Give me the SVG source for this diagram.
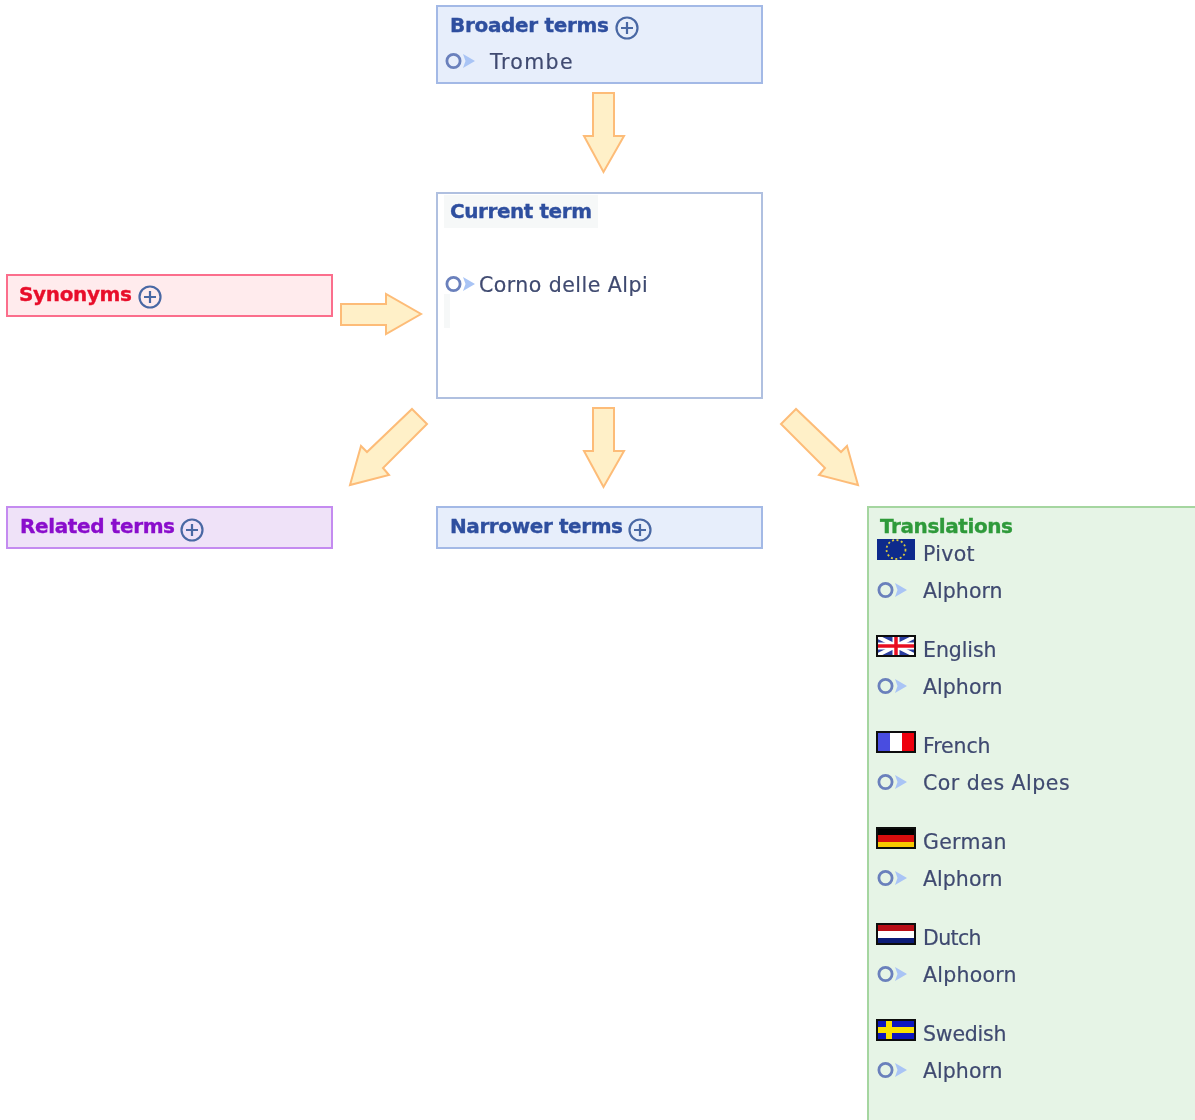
<svg xmlns="http://www.w3.org/2000/svg" width="1195" height="1120" viewBox="0 0 1195 1120">
<style>
text{font-family:"DejaVu Sans",Verdana,sans-serif}
.h{font-size:20px;font-weight:700;stroke-width:.35px}
.t{font-size:20.5px;fill:#3f4a70;letter-spacing:.4px;stroke:#3f4a70;stroke-width:.2px}
.box{stroke-width:2}
.ar{fill:#fff0c8;stroke:#fdbc78;stroke-width:2;stroke-linejoin:miter}
.pc{fill:none;stroke:#4a68a4;stroke-width:2.2}
.bc{fill:none;stroke:#6a80bc;stroke-width:2.8}
.bt{fill:#a9c4f5}
.fb{stroke:#111;stroke-width:2}
</style>
<defs>
<filter id="soft" x="-2%" y="-2%" width="104%" height="104%"><feGaussianBlur stdDeviation="0.45"/></filter>
<g id="plus"><circle r="10.5" class="pc"/><path d="M-6 0H6M0-6V6" class="pc"/></g>
<g id="bullet"><circle cx="7.5" cy="0" r="6.6" class="bc"/><path d="M17 -7L29 0L17 7L19.5 0Z" class="bt"/></g>
</defs>
<rect width="1195" height="1120" fill="#fff"/>
<g id="diagram" filter="url(#soft)">
<g id="connectors">
<path class="ar" d="M593 93H614V136H624L603.500 172L584 136H593Z"/>
<path class="ar" d="M341 304H386V294L421 314L386 334V325H341Z"/>
<path class="ar" d="M593 408H614V451H624L603.500 487L584 451H593Z"/>
<path class="ar" d="M412 409L427 424L383 468L389 475L350 485L361 446L367 452Z"/>
<path class="ar" d="M796 409L781 424L825 468L819 475L858 485L847 446L841 452Z"/>
</g>
<g id="broader">
<rect class="box" x="437" y="6" width="325" height="77" fill="#e7eefb" stroke="#a3b9e6"/>
<text class="h" x="450" y="32" fill="#2f4f9f" stroke="#2f4f9f" textLength="159">Broader terms</text>
<use href="#plus" x="627" y="28"/>
<use href="#bullet" x="446" y="61"/>
<text class="t" x="490" y="69" textLength="83">Trombe</text>
</g>
<g id="current">
<rect class="box" x="437" y="193" width="325" height="205" fill="#fff" stroke="#b0c0e0"/>
<rect x="444" y="195" width="154" height="33" fill="#f6f8f8"/>
<rect x="444" y="294" width="6" height="34" fill="#f6f8f8"/>
<text class="h" x="450" y="218" fill="#2f4f9f" stroke="#2f4f9f" textLength="142">Current term</text>
<use href="#bullet" x="446" y="284"/>
<text class="t" x="479" y="292" textLength="169">Corno delle Alpi</text>
</g>
<g id="synonyms">
<rect class="box" x="7" y="275" width="325" height="41" fill="#ffebed" stroke="#fb6e8c"/>
<text class="h" x="19" y="301" fill="#e8102c" stroke="#e8102c" textLength="113">Synonyms</text>
<use href="#plus" x="150" y="297"/>
</g>
<g id="related">
<rect class="box" x="7" y="507" width="325" height="41" fill="#efe2f8" stroke="#c48bf0"/>
<text class="h" x="20" y="533" fill="#8a0ccc" stroke="#8a0ccc" textLength="155">Related terms</text>
<use href="#plus" x="192" y="530"/>
</g>
<g id="narrower">
<rect class="box" x="437" y="507" width="325" height="41" fill="#e7eefb" stroke="#a3b9e6"/>
<text class="h" x="450" y="533" fill="#2f4f9f" stroke="#2f4f9f" textLength="173">Narrower terms</text>
<use href="#plus" x="640" y="530"/>
</g>
<g id="translations">
<rect class="box" x="868" y="507" width="340" height="625" fill="#e6f4e6" stroke="#a5d6a0"/>
<text class="h" x="880" y="533" fill="#2e9a3a" stroke="#2e9a3a" textLength="133">Translations</text>
<rect x="877" y="539" width="38" height="21" fill="#0b2a8c"/>
<circle cx="896" cy="549.500" r="9.500" fill="none" stroke="#d8c840" stroke-width="1.8" stroke-dasharray="2 2.5"/>
<text class="t" x="923" y="561" textLength="52">Pivot</text>
<use href="#bullet" x="878" y="590"/>
<text class="t" x="923" y="598" textLength="80">Alphorn</text>
<g class="flag"><rect x="877" y="636" width="38" height="20" fill="#2a3ca0"/><path d="M878 637L914 655M914 637L878 655" stroke="#fff" stroke-width="4"/><path d="M896 636V656M877 646H915" stroke="#fff" stroke-width="7"/><path d="M896 636V656M877 646H915" stroke="#e81020" stroke-width="3.500"/><rect x="877" y="636" width="38" height="20" fill="none" class="fb"/></g>
<text class="t" x="923" y="657" textLength="74">English</text>
<use href="#bullet" x="878" y="686"/>
<text class="t" x="923" y="694" textLength="80">Alphorn</text>
<g class="flag"><rect x="877" y="732" width="13" height="20" fill="#4a4ee0"/><rect x="890" y="732" width="12" height="20" fill="#fff"/><rect x="902" y="732" width="13" height="20" fill="#ee0008"/><rect x="877" y="732" width="38" height="20" fill="none" class="fb"/></g>
<text class="t" x="923" y="753" textLength="68">French</text>
<use href="#bullet" x="878" y="782"/>
<text class="t" x="923" y="790" textLength="147">Cor des Alpes</text>
<g class="flag"><rect x="877" y="828" width="38" height="7" fill="#000"/><rect x="877" y="835" width="38" height="7" fill="#d81010"/><rect x="877" y="842" width="38" height="6" fill="#f8c800"/><rect x="877" y="828" width="38" height="20" fill="none" class="fb"/></g>
<text class="t" x="923" y="849" textLength="84">German</text>
<use href="#bullet" x="878" y="878"/>
<text class="t" x="923" y="886" textLength="80">Alphorn</text>
<g class="flag"><rect x="877" y="924" width="38" height="7" fill="#b81018"/><rect x="877" y="931" width="38" height="7" fill="#fff"/><rect x="877" y="938" width="38" height="6" fill="#101c78"/><rect x="877" y="924" width="38" height="20" fill="none" class="fb"/></g>
<text class="t" x="923" y="945" textLength="59">Dutch</text>
<use href="#bullet" x="878" y="974"/>
<text class="t" x="923" y="982" textLength="94">Alphoorn</text>
<g class="flag"><rect x="877" y="1020" width="38" height="20" fill="#0a18c0"/><path d="M889 1020V1040M877 1030H915" stroke="#f8e000" stroke-width="6"/><rect x="877" y="1020" width="38" height="20" fill="none" class="fb"/></g>
<text class="t" x="923" y="1041" textLength="84">Swedish</text>
<use href="#bullet" x="878" y="1070"/>
<text class="t" x="923" y="1078" textLength="80">Alphorn</text>
</g>
</g>
</svg>
